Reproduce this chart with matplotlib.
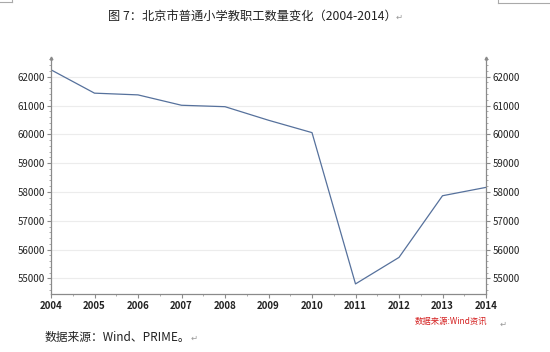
import matplotlib.pyplot as plt
from matplotlib.lines import Line2D
from matplotlib.ticker import MultipleLocator, AutoMinorLocator

plt.rcParams['font.family'] = ['Noto Sans CJK SC', 'DejaVu Sans']

# Data
years = [2004, 2005, 2006, 2007, 2008, 2009, 2010, 2011, 2012, 2013, 2014]
staff = [62240, 61430, 61370, 61010, 60960, 60490, 60060, 54810, 55730, 57870, 58160]
title = "图 7：北京市普通小学教职工数量变化（2004-2014）"
source_note = "数据来源：Wind、PRIME。"
wind_note = "数据来源:Wind资讯"

fig = plt.figure(figsize=(5.5, 3.52), dpi=100)
ax = fig.add_axes([51 / 550, 1 - 294 / 352, 435 / 550, 236 / 352])

ax.plot(years, staff, color='#56719c', linewidth=0.9)

# Axes setup
ax.set_xlim(2004, 2014)
ax.set_ylim(54460, 62650)
ax.set_xticks(years)
ax.xaxis.set_minor_locator(AutoMinorLocator(2))
ax.yaxis.set_major_locator(MultipleLocator(1000))
ax.yaxis.set_minor_locator(AutoMinorLocator(5))
ax.grid(True, axis='y', color='#ececec', linewidth=0.8)
ax.set_axisbelow(True)

for side in ['left', 'right', 'bottom']:
    ax.spines[side].set_color('#8a8a8a')
    ax.spines[side].set_linewidth(0.9)
ax.spines['top'].set_visible(False)

ax.tick_params(axis='y', which='both', left=True, right=True,
               labelleft=True, labelright=True, direction='out',
               colors='#8a8a8a', labelcolor='#222222', labelsize=7, pad=1.5)
ax.tick_params(axis='y', which='major', length=3)
ax.tick_params(axis='y', which='minor', length=1.5, width=0.5)
ax.tick_params(axis='x', which='both', direction='out', colors='#8a8a8a',
               labelcolor='#222222', labelsize=7, pad=2)
ax.tick_params(axis='x', which='major', length=3)
ax.tick_params(axis='x', which='minor', length=1.5, width=0.5)
for lbl in ax.get_xticklabels():
    lbl.set_fontweight('semibold')

# Small arrow heads on top of the vertical axes
for xa in (0, 1):
    ax.plot([xa], [1.0], transform=ax.transAxes, marker='^', markersize=2,
            color='#8a8a8a', clip_on=False)

# Texts around the chart
fig.text(252 / 550, 1 - 16 / 352, title, ha='center', va='center', fontsize=8.8,
         color='#222222')
fig.text(396 / 550, 1 - 17 / 352, "↵", ha='left', va='center', fontsize=6,
         color='#999999', family=['DejaVu Sans'])
fig.text(45 / 550, 1 - 337 / 352, source_note, ha='left', va='center',
         fontsize=8.5, color='#222222')
fig.text(191 / 550, 1 - 338 / 352, "↵", ha='left', va='center', fontsize=6,
         color='#999999', family=['DejaVu Sans'])
fig.text(451 / 550, 1 - 321 / 352, wind_note, ha='center', va='center',
         fontsize=6, color='#d42020', style='italic')
fig.text(500 / 550, 1 - 324 / 352, "↵", ha='left', va='center', fontsize=6,
         color='#999999', family=['DejaVu Sans'])

# Page corner marks
fig.add_artist(Line2D([0, 12 / 550], [1 - 2 / 352, 1 - 2 / 352], color='#aaaaaa', lw=0.8))
fig.add_artist(Line2D([12 / 550, 12 / 550], [1, 1 - 2 / 352], color='#aaaaaa', lw=0.8))
fig.add_artist(Line2D([498 / 550, 550 / 550], [1 - 3 / 352, 1 - 3 / 352], color='#aaaaaa', lw=0.8))
fig.add_artist(Line2D([498 / 550, 498 / 550], [1, 1 - 3 / 352], color='#aaaaaa', lw=0.8))

fig.savefig('out.png', dpi=100)
